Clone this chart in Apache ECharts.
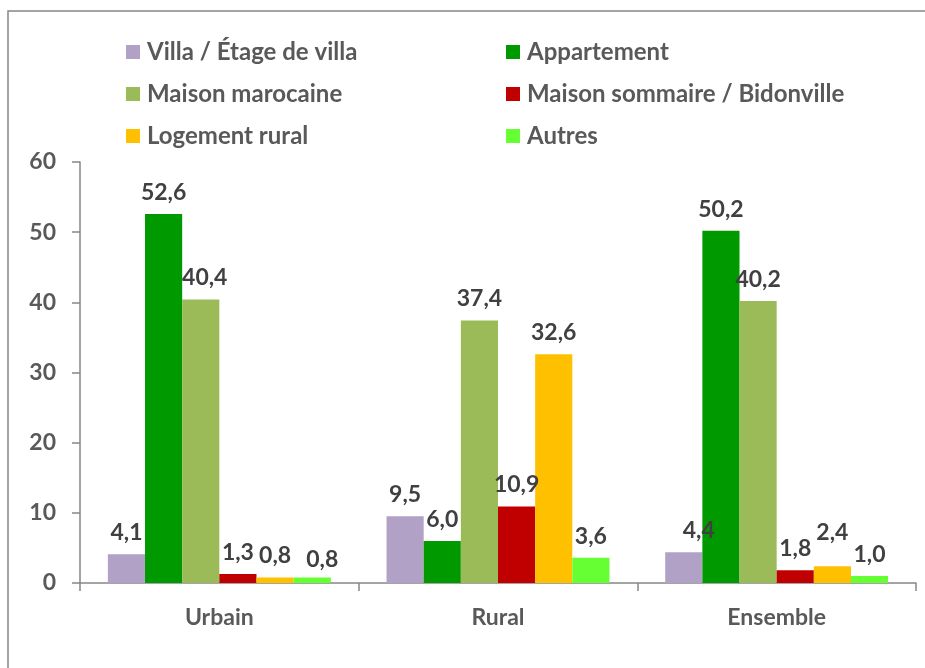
<!DOCTYPE html>
<html>
<head>
<meta charset="utf-8">
<script src="https://cdn.jsdelivr.net/npm/echarts@6/dist/echarts.min.js"></script>
<style>
  html, body { margin: 0; padding: 0; background: #fff; }
  #chart { width: 925px; height: 668px; }
</style>
</head>
<body>
<div id="chart"></div>
<script>
// données (%)
var categories = ["Urbain", "Rural", "Ensemble"];
var seriesNames = [
  "Villa / Étage de villa",
  "Appartement",
  "Maison marocaine",
  "Maison sommaire / Bidonville",
  "Logement rural",
  "Autres"
];
var villa = [4.1, 9.5, 4.4];
var appartement = [52.6, 6.0, 50.2];
var maisonMarocaine = [40.4, 37.4, 40.2];
var bidonville = [1.3, 10.9, 1.8];
var logementRural = [0.8, 32.6, 2.4];
var autres = [0.8, 3.6, 1.0];
var yTicks = [0, 10, 20, 30, 40, 50, 60];

var values = [villa, appartement, maisonMarocaine, bidonville, logementRural, autres];
var colors = ["#B2A1C7", "#009900", "#9BBB59", "#C00000", "#FFC000", "#66FF33"];
var font = "Lato, 'Noto Sans', sans-serif";

// quelques étiquettes décalées comme dans l'original (série, catégorie) -> [dx, dy]
var labelNudge = { "0-2": [15, 0], "4-2": [0, -12], "2-0": [4, 0], "5-0": [10, 4] };

var chart = echarts.init(document.getElementById("chart"));

// légende : 3 lignes x 2 colonnes
var legendPos = [
  [126, 40], [506, 40],
  [126, 82], [506, 82],
  [126, 124], [506, 124]
];
var legends = [];
for (var i = 0; i < seriesNames.length; i++) {
  legends.push({
    data: [seriesNames[i]],
    left: legendPos[i][0],
    top: legendPos[i][1],
    padding: 0,
    icon: "rect",
    itemWidth: 14,
    itemHeight: 14,
    itemGap: 0,
    selectedMode: false,
    textStyle: {
      color: "#595959",
      fontSize: 24,
      fontWeight: "bold",
      fontFamily: font,
      padding: [0, 0, 0, 2]
    }
  });
}

var series = [];
for (var s = 0; s < seriesNames.length; s++) {
  var items = [];
  for (var c = 0; c < categories.length; c++) {
    var item = { value: values[s][c] };
    var n = labelNudge[s + "-" + c];
    if (n) item.label = { offset: n };
    items.push(item);
  }
  series.push({
    name: seriesNames[s],
    type: "bar",
    data: items,
    barGap: "0%",
    barCategoryGap: "20%",
    itemStyle: { color: colors[s] },
    label: {
      show: true,
      position: "top",
      distance: 10,
      color: "#404040",
      fontSize: 23,
      fontWeight: "bold",
      fontFamily: font,
      formatter: function (p) {
        return p.value.toFixed(1).replace(".", ",");
      }
    }
  });
}

chart.setOption({
  animation: false,
  backgroundColor: "#fff",
  graphic: [{
    type: "rect",
    shape: { x: 8, y: 11, width: 940, height: 700 },
    style: { fill: "none", stroke: "#868686", lineWidth: 1.5 },
    silent: true
  }],
  legend: legends,
  grid: {
    left: 80,
    right: 9,
    top: 162,
    bottom: 85
  },
  xAxis: {
    type: "category",
    data: categories,
    axisLine: { lineStyle: { color: "#868686", width: 1.5 } },
    axisTick: { show: true, length: 8, lineStyle: { color: "#868686", width: 1.5 } },
    axisLabel: {
      color: "#595959",
      fontSize: 23,
      fontWeight: "bold",
      fontFamily: font,
      margin: 23
    }
  },
  yAxis: {
    type: "value",
    min: yTicks[0],
    max: yTicks[yTicks.length - 1],
    interval: 10,
    splitLine: { show: false },
    axisLine: { show: true, lineStyle: { color: "#868686", width: 1.5 } },
    axisTick: { show: true, length: 8, lineStyle: { color: "#868686", width: 1.5 } },
    axisLabel: {
      color: "#595959",
      fontSize: 23,
      fontWeight: "bold",
      fontFamily: font,
      margin: 24
    }
  },
  series: series
});
</script>
</body>
</html>
